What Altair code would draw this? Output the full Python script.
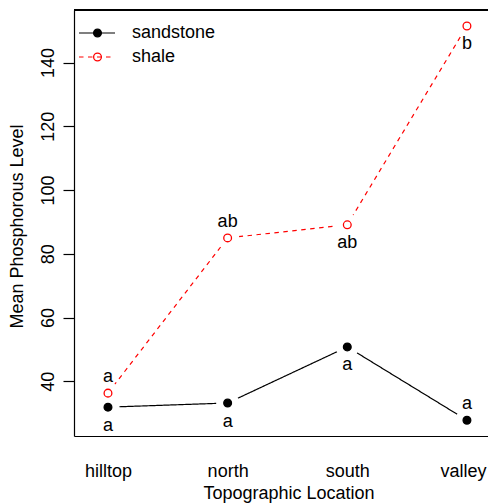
import json
import altair as alt
import pandas as pd

locations = ["hilltop", "north", "south", "valley"]
rocks = ["sandstone", "shale"]
sandstone_vals = [31.9, 33.2, 50.8, 27.8]
shale_vals = [36.3, 85.0, 89.1, 151.5]
sandstone_letters = ["a", "a", "a", "a"]
sandstone_pos = ["below", "below", "below", "above"]
shale_letters = ["a", "ab", "ab", "b"]
shale_pos = ["above", "above", "below", "below"]
y_ticks = [40, 60, 80, 100, 120, 140]

rows = []
for rock, vals, lets, poss in [
    ("sandstone", sandstone_vals, sandstone_letters, sandstone_pos),
    ("shale", shale_vals, shale_letters, shale_pos),
]:
    for i, loc in enumerate(locations):
        rows.append({"rock": rock, "kind": rock, "loc": loc, "xi": i + 1,
                     "value": vals[i], "letter": lets[i], "pos": poss[i]})
df = pd.DataFrame(rows)

FONT = "Liberation Sans"
xscale = alt.Scale(domain=[0.716, 4.176], nice=False, zero=False)
yscale = alt.Scale(domain=[22.85, 156.5], nice=False, zero=False)

label_expr = json.dumps(locations) + "[datum.value - 1]"

x_enc = alt.X("xi:Q", scale=xscale, axis=alt.Axis(
    values=[1, 2, 3, 4], labelExpr=label_expr, ticks=False, tickSize=0,
    domain=True, domainColor="black", domainWidth=1.2, grid=False,
    labelPadding=40, labelBaseline="alphabetic", labelFontSize=18,
    labelFont=FONT, labelColor="black", labelFlush=False,
    labelOffset={"condition": {"test": "datum.value == 4", "value": -4}, "value": 0},
    title="Topographic Location", titleFont=FONT, titleFontSize=18,
    titleFontWeight="normal", titleColor="black", titleX=214.5, titleY=62,
    titleBaseline="alphabetic", titleAlign="center"))
y_enc = alt.Y("value:Q", scale=yscale, axis=alt.Axis(
    values=y_ticks, tickSize=11, tickWidth=1.2, tickColor="black",
    domain=True, domainColor="black", domainWidth=1.2, grid=False,
    labelAngle=270, labelAlign="center", labelBaseline="alphabetic",
    labelPadding=10, labelFontSize=18, labelFont=FONT, labelColor="black",
    labelOverlap=False,
    title="Mean Phosphorous Level", titleFont=FONT, titleFontSize=18,
    titleFontWeight="normal", titleColor="black", titleAngle=270,
    titleX=-52, titleY=216, titleAlign="center", titleBaseline="alphabetic"))

line_legend = alt.Legend(orient="none", legendX=14, legendY=14, title=None,
                         symbolType="M-4.5,0H4.5", symbolSize=64,
                         symbolStrokeWidth=1.2, labelOffset=26, padding=0,
                         rowPadding=6)
lines = alt.Chart(df).mark_line(strokeWidth=1.2).encode(
    x=x_enc, y=y_enc,
    color=alt.Color("rock:N", scale=alt.Scale(domain=rocks, range=["black", "red"]),
                    legend=line_legend),
    strokeDash=alt.StrokeDash("rock:N", scale=alt.Scale(domain=rocks, range=[[1, 0], [4.5, 4.5]]),
                              legend=line_legend),
    order="xi:Q",
)

halos = alt.Chart(df).mark_circle(size=529, color="white", opacity=1).encode(
    x=alt.X("xi:Q", scale=xscale), y=alt.Y("value:Q", scale=yscale))

pt_legend = alt.Legend(orient="none", legendX=14.5, legendY=14, title=None,
                       symbolType="circle", symbolSize=60, symbolStrokeWidth=1.3,
                       labelExpr="''", padding=0, rowPadding=6)
points = alt.Chart(df).mark_point(shape="circle", size=60, strokeWidth=1.3, opacity=1).encode(
    x=alt.X("xi:Q", scale=xscale), y=alt.Y("value:Q", scale=yscale),
    fill=alt.Fill("kind:N", scale=alt.Scale(range=["black", "transparent"]),
                  legend=pt_legend),
    stroke=alt.Stroke("kind:N", scale=alt.Scale(range=["black", "red"]),
                      legend=pt_legend),
)

txt_below = alt.Chart(df).transform_filter(alt.datum.pos == "below").mark_text(
    fontSize=18, font=FONT, color="black", baseline="alphabetic", align="center", dy=23.5
).encode(x=alt.X("xi:Q", scale=xscale), y=alt.Y("value:Q", scale=yscale), text="letter:N")
txt_above = alt.Chart(df).transform_filter(alt.datum.pos == "above").mark_text(
    fontSize=18, font=FONT, color="black", baseline="alphabetic", align="center", dy=-11
).encode(x=alt.X("xi:Q", scale=xscale), y=alt.Y("value:Q", scale=yscale), text="letter:N")

top_rule = alt.Chart(df).mark_rule(color="black", strokeWidth=1.2).encode(y=alt.value(0))

chart = alt.layer(lines, halos, points, txt_below, txt_above, top_rule).properties(
    width=414, height=426,
    padding={"left": 66, "top": 2, "right": 0, "bottom": 67},
    autosize=alt.AutoSizeParams(type="none"),
).configure_view(stroke=None).configure_legend(
    labelFont=FONT, labelFontSize=18, labelColor="black"
)

chart.save("out.html", embed_options={"renderer": "svg", "actions": False})
